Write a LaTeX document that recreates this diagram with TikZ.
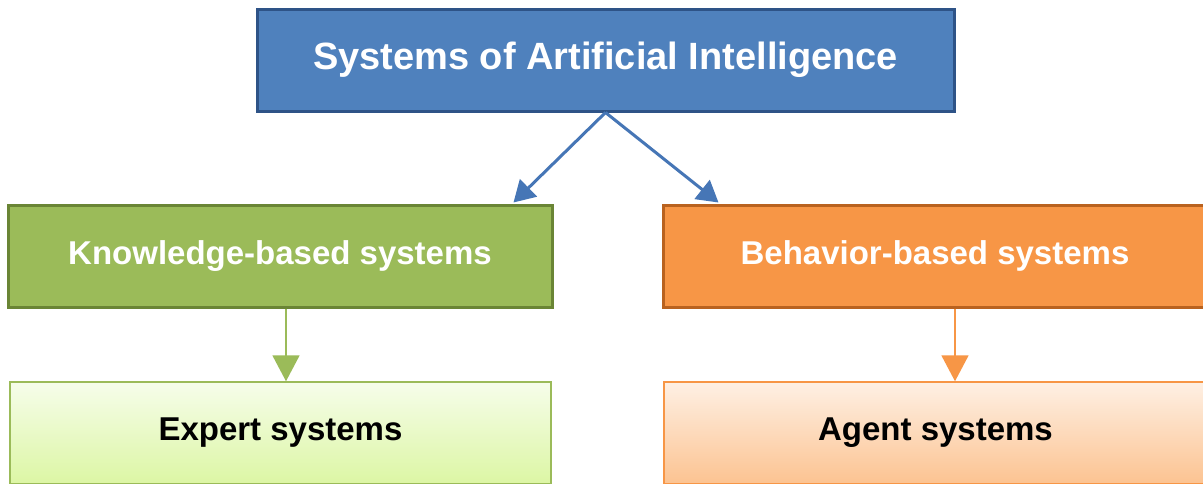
\documentclass[tikz,border=0pt]{standalone}
\usepackage{fontspec}
\setmainfont{Liberation Sans}
\usetikzlibrary{arrows.meta}
\definecolor{bluefill}{HTML}{4F81BD}
\definecolor{blueline}{HTML}{2E5387}
\definecolor{bluearrow}{HTML}{4676B6}
\definecolor{greenfill}{HTML}{9BBB59}
\definecolor{greenline}{HTML}{6A8535}
\definecolor{orangefill}{HTML}{F79646}
\definecolor{orangeline}{HTML}{B9621F}
\definecolor{lgtop}{HTML}{F6FDEA}
\definecolor{lgbot}{HTML}{DCF6A4}
\definecolor{lotop}{HTML}{FEF0E4}
\definecolor{lobot}{HTML}{FCC391}
\tikzset{
  x=1pt, y=-1pt,
  boxbase/.style={rectangle, minimum height=102pt, inner sep=0pt,
    font=\fontsize{33}{36}\selectfont\bfseries},
  topbox/.style={boxbase, fill=bluefill, draw=blueline, line width=3pt, text=white,
    font=\fontsize{38}{40}\selectfont\bfseries},
  gbox/.style={boxbase, fill=greenfill, draw=greenline, line width=3pt, text=white},
  obox/.style={boxbase, fill=orangefill, draw=orangeline, line width=3pt, text=white},
  lgbox/.style={boxbase, top color=lgtop, bottom color=lgbot, draw=greenfill, line width=1.5pt, text=black},
  lobox/.style={boxbase, top color=lotop, bottom color=lobot, draw=orangefill, line width=1.5pt, text=black},
  bluearr/.style={draw=bluearrow, line width=3pt, -{Triangle[length=21pt,width=24pt]}},
  garr/.style={draw=greenfill, line width=1.8pt, -{Triangle[length=26pt,width=27pt]}},
  oarr/.style={draw=orangefill, line width=1.8pt, -{Triangle[length=26pt,width=27pt]}},
}
\begin{document}
\begin{tikzpicture}
\useasboundingbox (0,0) rectangle (1203,483);
\clip (0,0) rectangle (1203,483);
\fill[white] (0,0) rectangle (1203,483);
\node[topbox, minimum width=697pt] (top) at (605.5,60) {Systems of Artificial Intelligence};
\node[gbox, minimum width=544pt] (kb) at (280,256) {Knowledge-based systems};
\node[obox, minimum width=544pt] (bb) at (935,256) {Behavior-based systems};
\node[lgbox, minimum width=541pt] (ex) at (280.5,433) {Expert systems};
\node[lobox, minimum width=543pt] (ag) at (935.5,433) {Agent systems};
\draw[bluearr] (top.south) -- ([xshift=-40pt,yshift=1pt]kb.north east);
\draw[bluearr] (top.south) -- ([xshift=57pt,yshift=1pt]bb.north west);
\coordinate (kbs) at ([xshift=6pt]kb.south);
\draw[garr] (kbs) -- (kbs |- ex.north);
\coordinate (bbs) at ([xshift=20pt]bb.south);
\draw[oarr] (bbs) -- (bbs |- ag.north);
\end{tikzpicture}
\end{document}
